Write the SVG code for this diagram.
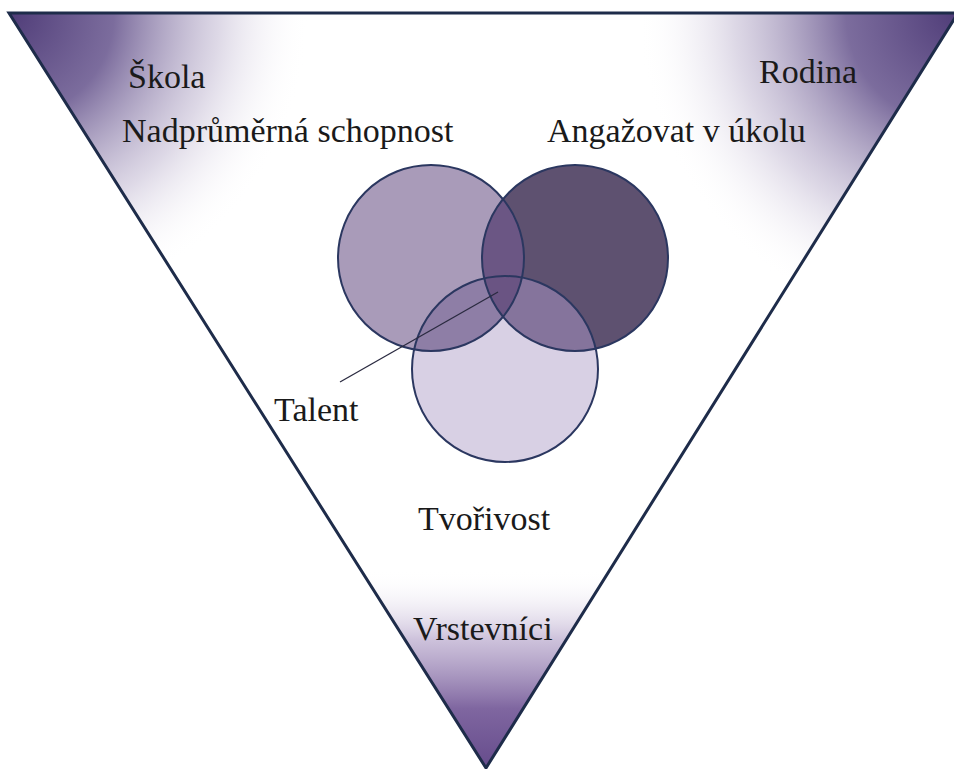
<svg xmlns="http://www.w3.org/2000/svg" width="954" height="769" viewBox="0 0 954 769">
  <style>
    .lbl { font-family: "Liberation Serif", "Times New Roman", serif; font-size: 34px; fill: #1a1a1a; }
    .ring { fill: none; stroke: #2b3760; stroke-width: 2; }
  </style>
  <defs>
    <clipPath id="triClip"><polygon points="9,13 958,13 486,768"/></clipPath>
    <clipPath id="clipL"><circle cx="431" cy="258" r="93"/></clipPath>
    <clipPath id="clipR"><circle cx="575" cy="258" r="93"/></clipPath>
    <clipPath id="clipB"><circle cx="505" cy="369" r="93"/></clipPath>
    <radialGradient id="gTL" gradientUnits="userSpaceOnUse" cx="9" cy="13" r="300">
      <stop offset="0" stop-color="#4f3c78" stop-opacity="1"/>
      <stop offset="0.35" stop-color="#6d5c92" stop-opacity="0.9"/>
      <stop offset="0.7" stop-color="#b4a9c8" stop-opacity="0.45"/>
      <stop offset="1" stop-color="#ffffff" stop-opacity="0"/>
    </radialGradient>
    <radialGradient id="gTR" gradientUnits="userSpaceOnUse" cx="958" cy="13" r="320">
      <stop offset="0" stop-color="#4f3c78" stop-opacity="1"/>
      <stop offset="0.35" stop-color="#6d5c92" stop-opacity="0.9"/>
      <stop offset="0.7" stop-color="#b4a9c8" stop-opacity="0.45"/>
      <stop offset="1" stop-color="#ffffff" stop-opacity="0"/>
    </radialGradient>
    <linearGradient id="gB" gradientUnits="userSpaceOnUse" x1="0" y1="570" x2="0" y2="768">
      <stop offset="0" stop-color="#ffffff" stop-opacity="0"/>
      <stop offset="0.35" stop-color="#b8a8cc" stop-opacity="0.7"/>
      <stop offset="0.7" stop-color="#7f66a0" stop-opacity="1"/>
      <stop offset="1" stop-color="#664c8c" stop-opacity="1"/>
    </linearGradient>
  </defs>

  <g id="triangle">
    <polygon points="9,13 958,13 486,768" fill="#ffffff"/>
    <g clip-path="url(#triClip)">
      <rect x="0" y="0" width="954" height="769" fill="url(#gTL)"/>
      <rect x="0" y="0" width="954" height="769" fill="url(#gTR)"/>
      <rect x="0" y="540" width="954" height="229" fill="url(#gB)"/>
    </g>
    <polygon points="9,13 958,13 486,768" fill="none" stroke="#1e2c4a" stroke-width="3" stroke-linejoin="miter"/>
  </g>

  <g id="venn">
    <circle cx="431" cy="258" r="93" fill="#a99bb9"/>
    <circle cx="575" cy="258" r="93" fill="#5e5170"/>
    <circle cx="505" cy="369" r="93" fill="#d8d0e4"/>
    <circle cx="575" cy="258" r="93" fill="#6b5684" clip-path="url(#clipL)"/>
    <circle cx="505" cy="369" r="93" fill="#8e7ea6" clip-path="url(#clipL)"/>
    <circle cx="505" cy="369" r="93" fill="#85749c" clip-path="url(#clipR)"/>
    <g clip-path="url(#clipL)">
      <circle cx="505" cy="369" r="93" fill="#6a5483" clip-path="url(#clipR)"/>
    </g>
  </g>
  <g id="node-nadprumerna">
    <circle class="ring" cx="431" cy="258" r="93"/>
    <text class="lbl" x="122" y="142">Nadprůměrná schopnost</text>
  </g>
  <g id="node-angazovat">
    <circle class="ring" cx="575" cy="258" r="93"/>
    <text class="lbl" x="547" y="142">Angažovat v úkolu</text>
  </g>
  <g id="node-tvorivost">
    <circle class="ring" cx="505" cy="369" r="93"/>
    <text class="lbl" x="418" y="530">Tvořivost</text>
  </g>

  <g id="connectors">
    <line x1="340" y1="382" x2="498" y2="292" stroke="#2a2a40" stroke-width="1.3"/>
  </g>

  <g id="node-talent"><text class="lbl" x="274" y="421">Talent</text></g>
  <g id="node-skola"><text class="lbl" x="128" y="88">Škola</text></g>
  <g id="node-rodina"><text class="lbl" x="759" y="83">Rodina</text></g>
  <g id="node-vrstevnici"><text class="lbl" x="413" y="640">Vrstevníci</text></g>
</svg>
